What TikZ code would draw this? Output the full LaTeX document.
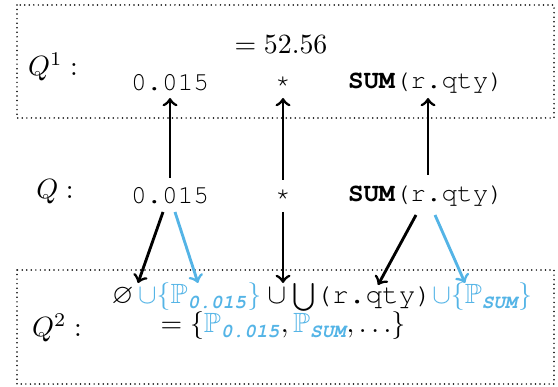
\documentclass[tikz,border=0pt]{standalone}
\usepackage[T1,TU]{fontenc}
\usepackage{amsmath,amssymb}
\IfFileExists{dsfont.sty}{\usepackage{dsfont}\newcommand{\qone}{\mathds{1}}}{\newcommand{\qone}{1}}
\newcommand{\qtwo}{2}
\usetikzlibrary{calc}
\definecolor{qblue}{RGB}{84,180,230}
\newcommand{\cour}{\fontencoding{T1}\fontfamily{pcr}\selectfont}
\newcommand{\ctt}[1]{{\cour #1}}
\newcommand{\tsub}[1]{\text{\cour\bfseries\slshape #1}}
\newcommand{\mbig}[1]{\scalebox{1.07}{#1}}
\tikzset{
  box/.style={draw, line width=0.65pt, line cap=round, dash pattern=on 0pt off 1.75pt},
  lbl/.style={inner sep=0pt},
  arr/.style={->, line width=1.1pt, >=to},
  barr/.style={arr, draw=qblue},
}
\begin{document}
\begin{tikzpicture}[x=0.3846pt, y=-0.3846pt]
\useasboundingbox (0,0) rectangle (558,387);
% boxes
\draw[box] (17,5) rectangle (554,118);
\draw[box] (17,270) rectangle (554,384);
% top
\node[lbl] (q1) at (53,67) {\mbig{$Q^{\qone}:$}};
\node[lbl] (res) at (281,45) {\mbig{$=52.56$}};
\node[lbl] (t1) at (170,82) {\ctt{0.015}};
\node[lbl] (t2) at (283,82) {\ctt{*}};
\node[lbl] (t3) at (426,82) {\ctt{\textbf{SUM}(r.qty)}};
% middle
\node[lbl] (q) at (55,192) {\mbig{$Q:$}};
\node[lbl] (m1) at (170,195) {\ctt{0.015}};
\node[lbl] (m2) at (283,195) {\ctt{*}};
\node[lbl] (m3) at (426,195) {\ctt{\textbf{SUM}(r.qty)}};
% bottom
\node[lbl] (q2) at (57,328) {\mbig{$Q^{\qtwo}:$}};
\node[lbl] (b1) at (322,297) {\mbig{$\varnothing\,\textcolor{qblue}{\cup\{\mathbb{P}_{\tsub{0.015}}\}}\cup\bigcup$\ctt{(r.qty)}$\textcolor{qblue}{\cup\{\mathbb{P}_{\tsub{SUM}}\}}$}};
\node[lbl] (b2) at (283,326) {\mbig{$=\{\textcolor{qblue}{\mathbb{P}_{\tsub{0.015}}},\textcolor{qblue}{\mathbb{P}_{\tsub{SUM}}},\ldots\}$}};
% arrow endpoints
\coordinate (e1) at (138,283);
\coordinate (e2) at (198,283);
\coordinate (e3) at (283,283);
\coordinate (e4) at (378,285);
\coordinate (e5) at (465,283);
\coordinate (u1) at (170,98);
\coordinate (u2) at (283,98);
\coordinate (u3) at (428,98);
\coordinate (s1) at (170,178);
\coordinate (s2) at (283,180);
\coordinate (s3) at (428,175);
\coordinate (d1) at (163,212);
\coordinate (d2) at (175,212);
\coordinate (d3) at (283,212);
\coordinate (d4) at (416,215);
\coordinate (d5) at (435,215);
% up arrows
\draw[arr] (s1) -- (u1);
\draw[arr] (s2) -- (u2);
\draw[arr] (s3) -- (u3);
% down arrows
\draw[arr] (d1) -- (e1);
\draw[barr] (d2) -- (e2);
\draw[arr] (d3) -- (e3);
\draw[arr] (d4) -- (e4);
\draw[barr] (d5) -- (e5);
\end{tikzpicture}
\end{document}
